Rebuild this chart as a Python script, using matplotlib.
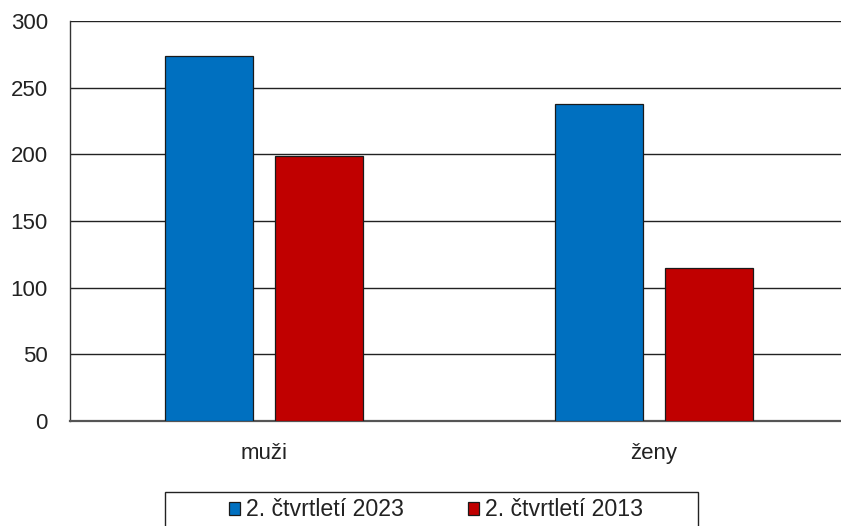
import matplotlib

matplotlib.use("Agg")

import matplotlib.pyplot as plt
import numpy as np
from matplotlib.patches import Rectangle

categories = ["muži", "ženy"]
series_names = ["2. čtvrtletí 2023", "2. čtvrtletí 2013"]
values_2023 = [274, 238]
values_2013 = [199, 115]
colors = ["#0070C0", "#C00000"]

plt.rcParams["font.family"] = ["Liberation Sans", "DejaVu Sans"]

W, H = 841, 526
fig = plt.figure(figsize=(W / 100, H / 100), dpi=100)
ax = fig.add_axes([70 / W, 1 - 421 / H, 1 - 70 / W, 400 / H])

x = np.arange(len(categories))
width = 0.226
offset = 0.141
b1 = ax.bar(x - offset, values_2023, width, color=colors[0], edgecolor="#1a1a1a",
            linewidth=0.9, label=series_names[0], zorder=3)
b2 = ax.bar(x + offset, values_2013, width, color=colors[1], edgecolor="#1a1a1a",
            linewidth=0.9, label=series_names[1], zorder=3)

ax.set_ylim(0, 300)
ax.set_xlim(-0.498, 1.481)
ax.set_yticks(range(0, 301, 50))
ax.set_xticks(x)
ax.set_xticklabels(categories)
ax.yaxis.grid(True, color="#222222", linewidth=1.0, zorder=0)
ax.set_axisbelow(True)
ax.tick_params(axis="both", length=0, labelsize=16, colors="#222222")
ax.tick_params(axis="x", pad=16)
ax.tick_params(axis="y", pad=16)
for side in ["top", "right"]:
    ax.spines[side].set_visible(False)
ax.spines["left"].set_color("#333333")
ax.spines["left"].set_linewidth(1.0)
ax.spines["bottom"].set_color("#555555")
ax.spines["bottom"].set_linewidth(1.6)

# legend box drawn by hand (runs past the bottom edge like in the source)
fig.patches.append(Rectangle((165 / W, -0.05), (698 - 165) / W, 0.05 + 1 - 492 / H,
                             transform=fig.transFigure, fill=False,
                             edgecolor="#222222", linewidth=1.0))
leg = fig.legend(handles=[b1, b2], loc="center", bbox_to_anchor=(436 / W, 1 - 510 / H),
                 ncol=2, frameon=False, fontsize=16.7, handlelength=0.48,
                 handleheight=0.48, handletextpad=0.28, columnspacing=2.75,
                 borderpad=0, borderaxespad=0)
for t in leg.get_texts():
    t.set_color("#222222")

fig.savefig("out.png", dpi=100)
